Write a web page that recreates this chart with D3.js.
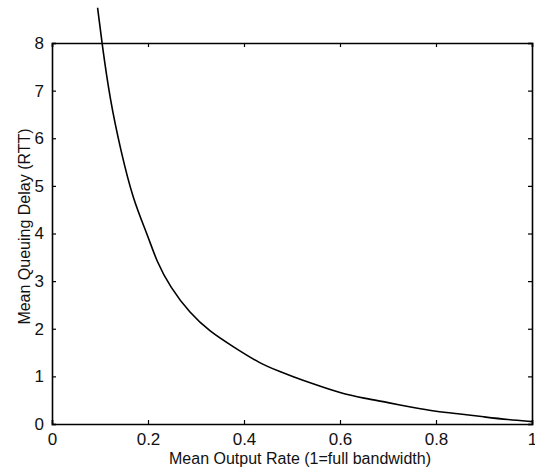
<!DOCTYPE html>
<meta charset="utf-8">
<head>
    <title>Mean Queuing Delay vs Mean Output Rate</title>
    <style>
        body { margin: 0; background: #fff; }
        text { font-family: "Liberation Sans", Arial, sans-serif; fill: #111; }
    </style>
</head>
<body>
    <script src="https://d3js.org/d3.v7.min.js"></script>
    <script>
        // values
        var rate = [0.095, 0.104, 0.121, 0.143, 0.169, 0.2, 0.218, 0.246, 0.2875, 0.329, 0.378, 0.433, 0.475, 0.5, 0.55, 0.6, 0.65, 0.7, 0.75, 0.8, 0.85, 0.9, 0.95, 1.0];
        var delay = [8.74, 8.0, 6.8, 5.75, 4.7, 3.95, 3.41, 2.88, 2.32, 1.94, 1.62, 1.27, 1.10, 1.0, 0.82, 0.65, 0.54, 0.45, 0.35, 0.26, 0.21, 0.15, 0.09, 0.05];
        var xTicks = [0, 0.2, 0.4, 0.6, 0.8, 1];
        var yTicks = [0, 1, 2, 3, 4, 5, 6, 7, 8];

        var margin = { top: 43, right: 3, bottom: 46, left: 52 },
            width = 535 - margin.left - margin.right,
            height = 470 - margin.top - margin.bottom;

        var svg = d3.select("body")
            .append("svg")
            .attr("width", 535)
            .attr("height", 470);

        var g = svg.append("g")
            .attr("transform", "translate(" + margin.left + "," + margin.top + ")");

        var x = d3.scaleLinear().domain([0, 1]).range([0, width]);
        var y = d3.scaleLinear().domain([0, 8]).range([height, 0]);

        // bottom / left axes with labels, ticks point inward
        g.append("g")
            .attr("transform", "translate(0," + height + ")")
            .call(d3.axisBottom(x).tickValues(xTicks).tickSize(-4).tickPadding(9)
                .tickFormat(function(d) { return d === 0 || d === 1 ? d : d3.format(".1f")(d); }));
        g.append("g")
            .call(d3.axisLeft(y).tickValues(yTicks).tickSize(-4).tickPadding(8));

        // mirrored ticks top / right
        g.append("g")
            .call(d3.axisTop(x).tickValues(xTicks).tickSize(-4).tickFormat(""));
        g.append("g")
            .attr("transform", "translate(" + width + ",0)")
            .call(d3.axisRight(y).tickValues(yTicks).tickSize(-4).tickFormat(""));

        g.selectAll(".domain").attr("stroke", "#000").attr("stroke-width", 1.6);
        g.selectAll(".tick line").attr("stroke", "#000").attr("stroke-width", 1.2);
        g.selectAll(".tick text").style("font-size", "17px").attr("fill", "#111");

        // curve (not clipped, runs past the top of the box)
        var pts = rate.map(function(d, i) { return [d, delay[i]]; });
        g.append("path")
            .datum(pts)
            .attr("fill", "none")
            .attr("stroke", "#000")
            .attr("stroke-width", 1.6)
            .attr("d", d3.line()
                .x(function(d) { return x(d[0]); })
                .y(function(d) { return y(d[1]); })
                .curve(d3.curveBasis));

        svg.append("text")
            .attr("x", 300)
            .attr("y", 464)
            .attr("text-anchor", "middle")
            .style("font-size", "16px")
            .text("Mean Output Rate (1=full bandwidth)");

        svg.append("text")
            .attr("transform", "translate(30," + (margin.top + height / 2 - 7) + ") rotate(-90)")
            .attr("text-anchor", "middle")
            .style("font-size", "16px")
            .text("Mean Queuing Delay (RTT)");
    </script>
</body>
</html>
